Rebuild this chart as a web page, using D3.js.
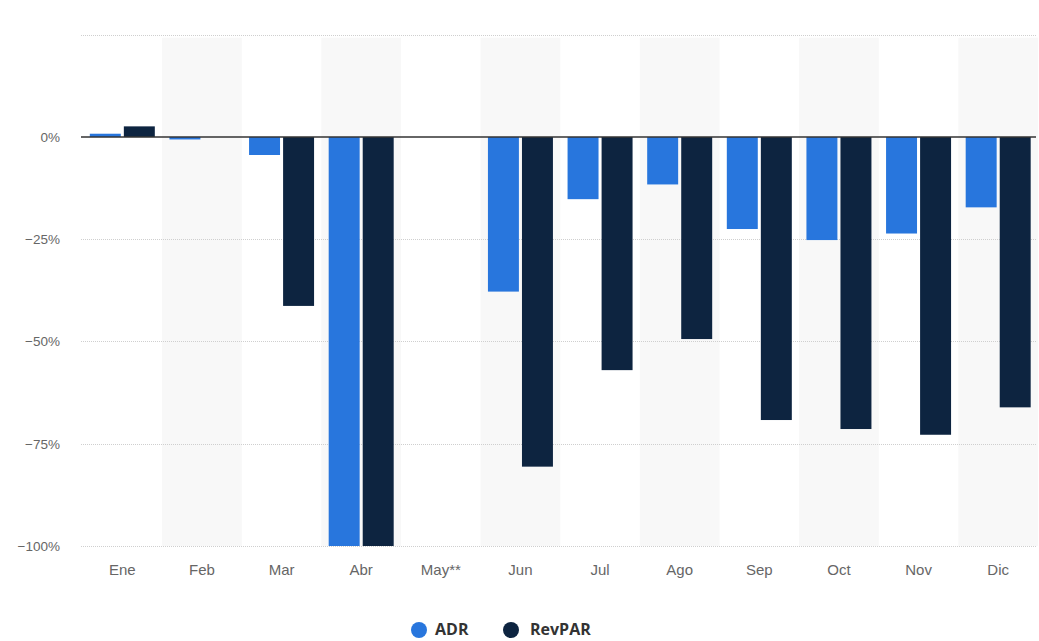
<!DOCTYPE html>
<html><head><meta charset="utf-8">
<script src="https://cdn.jsdelivr.net/npm/d3@7"></script>
<style>body{margin:0;background:#fff;} svg{display:block;font-family:"Open Sans",sans-serif;}</style>
</head><body>
<svg id="c" width="1039" height="641"></svg>
<script>
const months = ["Ene","Feb","Mar","Abr","May**","Jun","Jul","Ago","Sep","Oct","Nov","Dic"];
const adr =    [0.8, -0.6, -4.4, -100, null, -37.8, -15.2, -11.6, -22.5, -25.2, -23.6, -17.2];
const revpar = [2.6, 0,    -41.3, -100, null, -80.6, -57.0, -49.4, -69.2, -71.4, -72.8, -66.1];
const yTicks = [-100, -75, -50, -25, 0, 25];
const seriesNames = ["ADR","RevPAR"];
const colors = ["#2876dd","#0d2440"];

const svg = d3.select("#c");
const x0 = d3.scaleBand().domain(months).range([82.5, 1038]).paddingInner(0).paddingOuter(0);
const bw = x0.bandwidth();
const x1 = d3.scaleBand().domain(seriesNames).range([(bw-65)/2, (bw+65)/2]).paddingInner(0.09).paddingOuter(0);
const y = d3.scaleLinear().domain([-100, 25]).range([546, 34.75]);

// alternating band shading
svg.append("g").selectAll("rect").data(months.filter((m,i)=>i%2===1)).join("rect")
  .attr("x", d=>x0(d)).attr("width", bw)
  .attr("y", y(25)+3).attr("height", y(-100)-y(25)-3)
  .attr("fill", "#f8f8f8");

// y axis labels
const yAxis = d3.axisLeft(y).tickValues(yTicks).tickSize(0).tickPadding(20)
  .tickFormat(d => d===25 ? "" : (d<0 ? "\u2212"+Math.abs(d) : d) + "%");
const ga = svg.append("g").attr("transform","translate(81,0)").call(yAxis);
ga.select(".domain").remove();
ga.selectAll("text").attr("fill","#666").attr("font-size","13.5px").attr("x",-21);

// gridlines
svg.append("g").selectAll("line").data(yTicks.filter(d=>d!==0)).join("line")
  .attr("x1",81).attr("x2",1036).attr("y1",d=>Math.round(y(d))+0.5).attr("y2",d=>Math.round(y(d))+0.5)
  .attr("stroke","#cfcfcf").attr("stroke-dasharray","1,1").attr("stroke-width",1);

// bars
const data = months.map((m,i)=>({m, vals:[adr[i], revpar[i]]}));
const g = svg.append("g");
data.forEach(d=>{
  d.vals.forEach((v,j)=>{
    if (v===null) return;
    g.append("rect")
      .attr("x", x0(d.m)+x1(seriesNames[j]))
      .attr("width", x1.bandwidth())
      .attr("y", y(Math.max(0,v)))
      .attr("height", Math.abs(y(v)-y(0)))
      .attr("fill", colors[j]);
  });
});

// zero line
svg.append("line").attr("x1",81).attr("x2",1036).attr("y1",y(0)).attr("y2",y(0))
  .attr("stroke","#333").attr("stroke-width",1.3);

// x axis labels
const xAxis = d3.axisBottom(x0).tickSize(0).tickPadding(18);
const gx = svg.append("g").attr("transform",`translate(0,${y(-100)})`).call(xAxis);
gx.select(".domain").remove();
gx.selectAll("text").attr("fill","#666").attr("font-size","15px");

// legend
const leg = svg.append("g").attr("transform","translate(0,630)");
const legItems = [{name:"ADR", cx:419, tx:435},{name:"RevPAR", cx:511, tx:530}];
legItems.forEach((it,j)=>{
  leg.append("circle").attr("cx",it.cx).attr("cy",0).attr("r",8).attr("fill",colors[j]);
  leg.append("text").attr("x",it.tx).attr("y",5).attr("font-size","16px").attr("font-weight","bold")
    .attr("fill","#333").text(it.name);
});
</script>
</body></html>
